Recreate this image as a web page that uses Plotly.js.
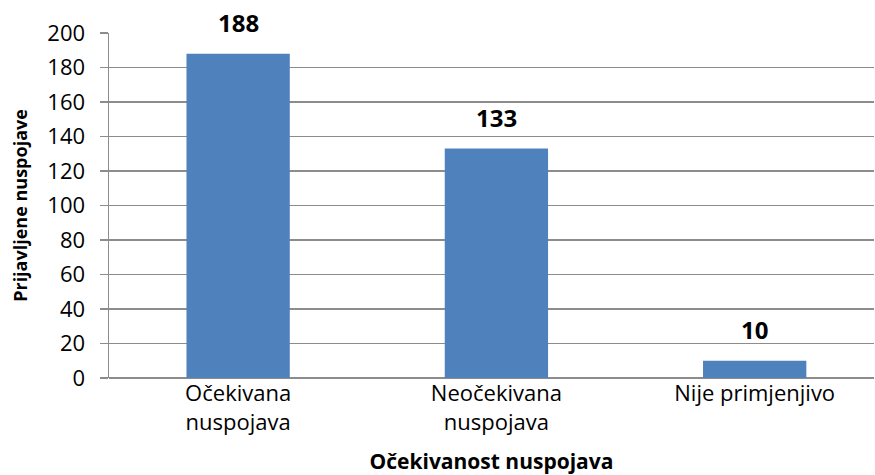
<!DOCTYPE html>
<html>
<head>
<meta charset="utf-8">
<script src="https://cdn.plot.ly/plotly-3.0.1.min.js"></script>
<style>html,body{margin:0;padding:0;background:#fff;}#chart{width:875px;height:475px;}</style>
</head>
<body>
<div id="chart"></div>
<script>
var categories = ["Očekivana<br>nuspojava", "Neočekivana<br>nuspojava", "Nije primjenjivo"];
var values = [188, 133, 10];
var yTickValues = [0, 20, 40, 60, 80, 100, 120, 140, 160, 180, 200];

var FONT = "Open Sans, Noto Sans, sans-serif";

var trace = {
  type: "bar",
  x: categories,
  y: values,
  width: 0.4,
  marker: {color: "#4F81BD"},
  hoverinfo: "x+y"
};

var annotations = categories.map(function (c, i) {
  return {
    x: c, y: values[i], xref: "x", yref: "y",
    text: "<b>" + values[i] + "</b>",
    showarrow: false, yanchor: "bottom", yshift: 13,
    font: {family: FONT, size: 24, color: "#000"}
  };
});

var layout = {
  width: 875, height: 475,
  margin: {l: 109, r: 1, t: 33, b: 97},
  paper_bgcolor: "#fff", plot_bgcolor: "#fff",
  showlegend: false,
  font: {family: FONT, size: 20, color: "#000"},
  xaxis: {
    type: "category",
    range: [-0.5, 2.462],
    showgrid: false,
    showline: false,
    ticks: "",
    tickfont: {family: FONT, size: 22, color: "#000"},
    title: {text: "<b>Očekivanost nuspojava</b>", font: {family: FONT, size: 21, color: "#000"}, standoff: 22},
    zeroline: false,
    fixedrange: true
  },
  yaxis: {
    range: [0, 200],
    tickvals: yTickValues,
    showgrid: true,
    gridcolor: "#8c8c8c",
    gridwidth: 1.5,
    showline: true,
    linecolor: "#8c8c8c",
    linewidth: 1.5,
    ticks: "outside",
    ticklen: 8,
    tickwidth: 1.5,
    tickcolor: "#8c8c8c",
    ticklabelstandoff: 10,
    tickfont: {family: FONT, size: 22, color: "#000"},
    zeroline: true,
    zerolinecolor: "#8c8c8c",
    zerolinewidth: 1.5,
    title: {text: "<b>Prijavljene nuspojave</b>", font: {family: FONT, size: 18, color: "#000"}, standoff: 15},
    fixedrange: true
  },
  annotations: annotations
};

Plotly.newPlot("chart", [trace], layout, {displayModeBar: false, staticPlot: true});
</script>
</body>
</html>
